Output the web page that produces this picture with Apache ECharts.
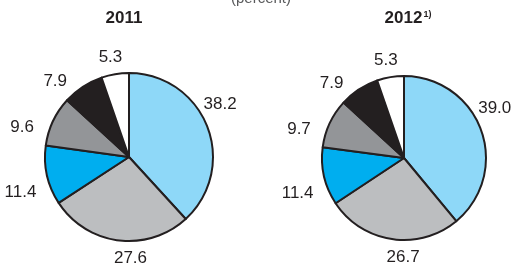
<!DOCTYPE html>
<html>
<head>
<meta charset="utf-8">
<script src="https://cdn.jsdelivr.net/npm/echarts@6/dist/echarts.min.js"></script>
<style>
  html, body { margin: 0; padding: 0; background: #fff; }
  #chart { width: 514px; height: 264px; }
</style>
</head>
<body>
<div id="chart"></div>
<script>
(function() {

  // data (percent)
  var categories = ['Segment 1', 'Segment 2', 'Segment 3', 'Segment 4', 'Segment 5', 'Segment 6'];
  var values2011 = [38.2, 27.6, 11.4, 9.6, 7.9, 5.3];
  var values2012 = [39.0, 26.7, 11.4, 9.7, 7.9, 5.3];
  var years = ['2011', '2012'];

  var colors = ['#8ed8f8', '#bcbec0', '#00aeef', '#939598', '#231f20', '#ffffff'];
  var font = 'Liberation Sans, Arial, Helvetica, sans-serif';

  var pies = [
    { values: values2011, center: [129, 157], radius: 84 },
    { values: values2012, center: [404, 158], radius: 82 }
  ];

  var myChart = echarts.init(document.getElementById('chart'), null, { renderer: 'canvas' });

  // labels sit just outside the rim, a bit counter-clockwise of each slice middle
  // (the top-most one stays centred over its slice)
  function makeLabelLayout(pie) {
    var total = pie.values.reduce(function(a, b) { return a + b; }, 0);
    return function(params) {
      var before = 0;
      for (var i = 0; i < params.dataIndex; i++) before += pie.values[i];
      var mid = (before + pie.values[params.dataIndex] / 2) / total * 360;
      var shift = mid > 345 ? 0 : (mid < 90 ? 10 : 8);
      var theta = (mid - shift) * Math.PI / 180;
      var dx = Math.sin(theta), dy = -Math.cos(theta);
      var w = params.labelRect.width;
      var d = pie.radius + 11;
      return {
        x: pie.center[0] + dx * d + dx * w / 2 - 5 * Math.abs(dx),
        y: pie.center[1] + dy * d + dy * 6,
        align: 'center',
        verticalAlign: 'middle'
      };
    };
  }

  var series = pies.map(function(pie, k) {
    return {
      name: years[k],
      type: 'pie',
      center: pie.center,
      radius: pie.radius,
      startAngle: 90,
      clockwise: true,
      avoidLabelOverlap: false,
      silent: true,
      itemStyle: {
        borderColor: '#231f20',
        borderWidth: 2
      },
      label: {
        show: true,
        position: 'outside',
        formatter: function(p) { return p.value.toFixed(1); },
        fontSize: 17,
        color: '#231f20',
        fontFamily: font
      },
      labelLine: { show: false },
      labelLayout: makeLabelLayout(pie),
      emphasis: { disabled: true },
      data: pie.values.map(function(v, i) {
        return { name: categories[i], value: v, itemStyle: { color: colors[i] } };
      })
    };
  });

  var option = {
    animation: false,
    textStyle: { fontFamily: font },
    title: [
      {
        text: '(percent)',
        left: 256,
        top: -14,
        textAlign: 'center',
        textStyle: { fontSize: 15, fontWeight: 'normal', color: '#58595b', fontFamily: font }
      },
      {
        text: years[0],
        left: 119,
        top: 5,
        textAlign: 'center',
        textStyle: { fontSize: 17, fontWeight: 'bold', color: '#231f20', fontFamily: font }
      },
      {
        text: '{y|' + years[1] + '}{s|1)}',
        left: 403,
        top: 5,
        textAlign: 'center',
        textStyle: {
          fontFamily: font,
          rich: {
            y: { fontSize: 17, fontWeight: 'bold', color: '#231f20', fontFamily: font },
            s: { fontSize: 9, fontWeight: 'bold', color: '#231f20', fontFamily: font, verticalAlign: 'top', padding: [0, 0, 0, 1] }
          }
        }
      }
    ],
    series: series
  };

  myChart.setOption(option);

})();
</script>
</body>
</html>
